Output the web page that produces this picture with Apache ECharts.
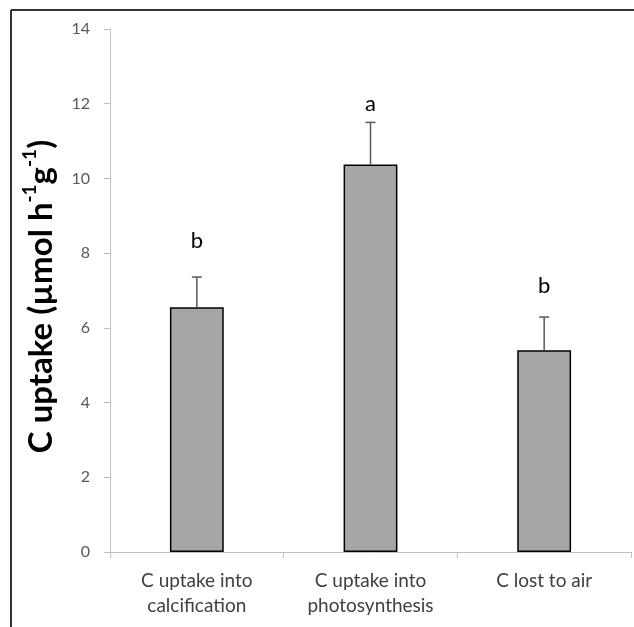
<!DOCTYPE html>
<html>
<head>
<meta charset="utf-8">
<script src="https://cdn.jsdelivr.net/npm/echarts@6/dist/echarts.min.js"></script>
<style>
  html, body { margin: 0; padding: 0; background: #fff; }
  #chart { width: 634px; height: 627px; }
</style>
</head>
<body>
<div id="chart"></div>
<script>
const categories = ['C uptake into\ncalcification', 'C uptake into\nphotosynthesis', 'C lost to air'];
const means = [6.55, 10.37, 5.40];
const errors = [0.81, 1.13, 0.89];
const letters = ['b', 'a', 'b'];
const letterY = [8.33, 12.0, 7.12];
const yTicks = { min: 0, max: 14, interval: 2 };

const chart = echarts.init(document.getElementById('chart'));
const FONT = 'Lato';

chart.setOption({
  animation: false,
  backgroundColor: '#ffffff',
  grid: { left: 110, right: 3, top: 29, bottom: 75, containLabel: false },
  graphic: [
    { type: 'line', shape: { x1: 11, y1: 10, x2: 634, y2: 10 }, style: { stroke: '#333', lineWidth: 2 } },
    { type: 'line', shape: { x1: 11, y1: 10, x2: 11, y2: 627 }, style: { stroke: '#333', lineWidth: 2 } }
  ],
  xAxis: {
    type: 'category',
    data: categories,
    axisLine: { lineStyle: { color: '#bfbfbf', width: 1 } },
    axisTick: { show: true, length: 6, lineStyle: { color: '#bfbfbf' } },
    axisLabel: { color: '#404040', fontFamily: FONT, fontSize: 19, lineHeight: 25, margin: 16 }
  },
  yAxis: {
    type: 'value',
    min: yTicks.min, max: yTicks.max, interval: yTicks.interval,
    splitLine: { show: false },
    axisLine: { show: true, lineStyle: { color: '#bfbfbf', width: 1 } },
    axisTick: { show: true, length: 6, lineStyle: { color: '#bfbfbf' } },
    axisLabel: { color: '#595959', fontFamily: FONT, fontSize: 16, margin: 20 },
    name: '{t|C uptake (µmol h}{s|-1}{t|g}{s|-1}{t|)}',
    nameLocation: 'middle',
    nameGap: 52,
    nameRotate: 90,
    nameTextStyle: {
      padding: [0, 12, 0, 0],
      rich: {
        t: { fontFamily: FONT, fontWeight: 'bold', fontSize: 33, color: '#000', lineHeight: 38, verticalAlign: 'bottom' },
        s: { fontFamily: FONT, fontWeight: 'bold', fontSize: 19, color: '#000', lineHeight: 19, verticalAlign: 'top' }
      }
    }
  },
  series: [
    {
      type: 'bar',
      data: means,
      barWidth: '31%',
      itemStyle: { color: '#a6a6a6', borderColor: '#000', borderWidth: 1.5 },
      z: 2
    },
    {
      type: 'custom',
      z: 3,
      data: means.map((m, i) => [i, m, m + errors[i], letterY[i]]),
      renderItem: function (params, api) {
        const i = api.value(0);
        const base = api.coord([i, api.value(1)]);
        const top = api.coord([i, api.value(2)]);
        const lab = api.coord([i, api.value(3)]);
        const capW = 5;
        return {
          type: 'group',
          children: [
            { type: 'line', shape: { x1: base[0], y1: base[1], x2: top[0], y2: top[1] }, style: { stroke: '#595959', lineWidth: 1.5 } },
            { type: 'line', shape: { x1: top[0] - capW, y1: top[1], x2: top[0] + capW, y2: top[1] }, style: { stroke: '#595959', lineWidth: 1.5 } },
            { type: 'text', style: { text: letters[i], x: lab[0], y: lab[1], align: 'center', verticalAlign: 'middle', fontFamily: FONT, fontSize: 22, fill: '#000' } }
          ]
        };
      }
    }
  ]
});
</script>
</body>
</html>
